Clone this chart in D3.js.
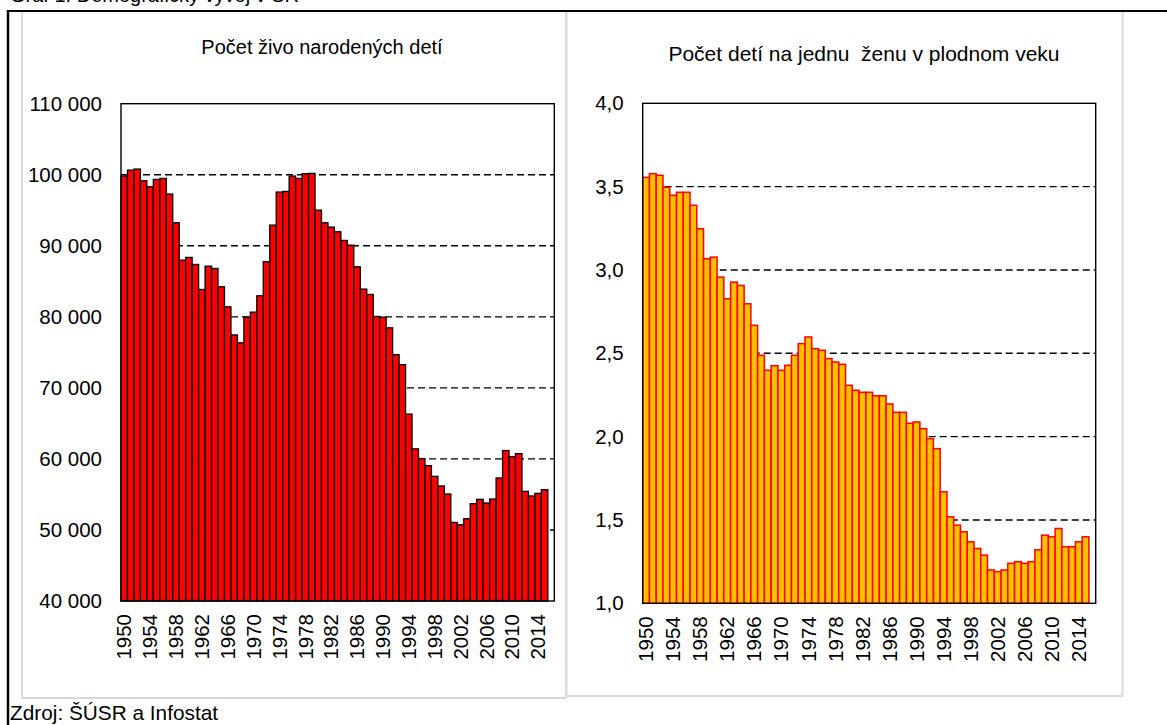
<!DOCTYPE html>
<html>
<head>
<meta charset="utf-8">
<script src="https://cdn.jsdelivr.net/npm/d3@7"></script>
<style>
  html, body { margin: 0; padding: 0; background: #fff; }
  svg { display: block; font-family: "Liberation Sans", Arial, sans-serif; }
  .title { white-space: pre; }
</style>
</head>
<body>
<svg id="chart" width="1167" height="725"></svg>
<script>
// Years 1950–2015
const years = d3.range(1950, 2016);

// Live births in Slovakia
const births = [
  99800, 100650, 100800, 99150, 98300, 99340, 99480, 97280, 93240, 87980,
  88360, 87370, 83850, 87130, 86810, 84230, 81410, 77450, 76350, 79950,
  80660, 82960, 87750, 92910, 97560, 97650, 99810, 99480, 100140, 100190,
  95020, 93240, 92630, 91970, 90750, 90090, 87040, 83900, 83150, 80050,
  79950, 78450, 74680, 73270, 66310, 61410, 60050, 59060, 57550, 56190,
  55060, 51060, 50730, 51580, 53690, 54310, 53790, 54350, 57320, 61180,
  60330, 60750, 55430, 54780, 55150, 55670
];

// Total fertility rate (children per woman)
const fertility = [
  3.556, 3.578, 3.568, 3.496, 3.448, 3.466, 3.466, 3.388, 3.247, 3.067,
  3.077, 2.957, 2.827, 2.927, 2.907, 2.797, 2.668, 2.488, 2.398, 2.426,
  2.398, 2.428, 2.488, 2.558, 2.598, 2.528, 2.518, 2.468, 2.448, 2.434,
  2.308, 2.278, 2.266, 2.266, 2.245, 2.245, 2.196, 2.146, 2.146, 2.080,
  2.088, 2.048, 1.988, 1.928, 1.669, 1.519, 1.469, 1.429, 1.369, 1.329,
  1.289, 1.200, 1.190, 1.200, 1.240, 1.250, 1.240, 1.250, 1.321, 1.409,
  1.399, 1.449, 1.339, 1.339, 1.369, 1.399
];

// Axis tick values
const birthTicks = [40000, 50000, 60000, 70000, 80000, 90000, 100000, 110000];
const fertilityTicks = [1.0, 1.5, 2.0, 2.5, 3.0, 3.5, 4.0];
const yearTicks = years.filter(y => (y - 1950) % 4 === 0);

const titles = ["Počet živo narodených detí", "Počet detí na jednu  ženu v plodnom veku"];
const heading = "Graf 1: Demografický vývoj v SR";
const source = "Zdroj: ŠÚSR a Infostat";

const sk = d3.formatLocale({ decimal: ",", thousands: " ", grouping: [3], currency: ["", ""] });
const fmtBirths = sk.format(",.0f");
const fmtRate = sk.format(".1f");

const svg = d3.select("#chart");
const FONT = 20.5;
const FAMILY = "Liberation Sans, Arial, sans-serif";

// Heading (its top runs off the page) and outer frame
svg.append("text").attr("x", 10).attr("y", 2)
  .attr("font-size", 20).attr("fill", "#000").text(heading);

// Panels
svg.append("rect").attr("x", 22).attr("y", 11).attr("width", 544).attr("height", 687)
  .attr("fill", "#fff").attr("stroke", "#d9d9d9").attr("stroke-width", 2);
svg.append("rect").attr("x", 566.5).attr("y", 11).attr("width", 556).attr("height", 685)
  .attr("fill", "#fff").attr("stroke", "#d9d9d9").attr("stroke-width", 2);

svg.append("line").attr("x1", 8).attr("x2", 1167).attr("y1", 11).attr("y2", 11)
  .attr("stroke", "#000").attr("stroke-width", 2);
svg.append("line").attr("x1", 8).attr("x2", 8).attr("y1", 10).attr("y2", 725)
  .attr("stroke", "#000").attr("stroke-width", 2.5);

svg.append("text").attr("x", 10).attr("y", 720)
  .attr("font-size", 20.8).attr("fill", "#000").text(source);

function drawPanel(cfg) {
  const { left, right, top, bottom, values, domain, ticks, grid, fmt, fill, stroke, strokeW,
          title, titleX, titleY, titleSize, labelGap } = cfg;
  const step = (right - left) / (years.length + 1);
  const x = d3.scaleBand().domain(years).range([left, left + step * years.length]).padding(0);
  const y = d3.scaleLinear().domain(domain).range([bottom, top]);
  const g = svg.append("g");

  g.append("text").attr("class", "title")
    .attr("x", titleX).attr("y", titleY).attr("text-anchor", "middle")
    .attr("font-size", titleSize).attr("fill", "#000").text(title);

  // dashed gridlines
  g.append("g").selectAll("line").data(grid).join("line")
    .attr("x1", left).attr("x2", right)
    .attr("y1", d => y(d)).attr("y2", d => y(d))
    .attr("stroke", "#000").attr("stroke-width", 1.4).attr("stroke-dasharray", "7,4");

  // bars
  g.append("g").selectAll("rect").data(years).join("rect")
    .attr("x", d => x(d))
    .attr("width", x.bandwidth())
    .attr("y", (d, i) => y(values[i]))
    .attr("height", (d, i) => y(domain[0]) - y(values[i]))
    .attr("fill", fill).attr("stroke", stroke).attr("stroke-width", strokeW);

  // plot frame
  g.append("rect").attr("x", left).attr("y", top)
    .attr("width", right - left).attr("height", bottom - top)
    .attr("fill", "none").attr("stroke", "#000").attr("stroke-width", 1.4);

  // y axis
  const ya = g.append("g").attr("transform", `translate(${left},0)`)
    .call(d3.axisLeft(y).tickValues(ticks).tickFormat(fmt).tickSize(0).tickPadding(labelGap));
  ya.select(".domain").remove();
  ya.selectAll("text").attr("font-size", FONT).attr("font-family", FAMILY).attr("fill", "#000");

  // x axis with rotated year labels
  const xa = g.append("g").attr("transform", `translate(0,${bottom})`)
    .call(d3.axisBottom(x).tickValues(yearTicks).tickSize(0));
  xa.select(".domain").remove();
  xa.selectAll("text")
    .attr("font-size", FONT).attr("font-family", FAMILY).attr("fill", "#000")
    .attr("transform", "rotate(-90)")
    .attr("text-anchor", "end")
    .attr("x", -13).attr("y", 0).attr("dy", "0.35em");
}

drawPanel({
  left: 121, right: 554.3, top: 103.7, bottom: 601,
  values: births, domain: [40000, 110000], ticks: birthTicks,
  grid: [50000, 60000, 70000, 80000, 90000, 100000], fmt: fmtBirths,
  fill: "#ff0000", stroke: "#000", strokeW: 1.3,
  title: titles[0], titleX: 322, titleY: 54, titleSize: 20, labelGap: 19
});

drawPanel({
  left: 642.7, right: 1095.7, top: 103.3, bottom: 603.3,
  values: fertility, domain: [1.0, 4.0], ticks: fertilityTicks,
  grid: [1.5, 2.0, 2.5, 3.0, 3.5], fmt: fmtRate,
  fill: "#ffc000", stroke: "#ff0000", strokeW: 1.5,
  title: titles[1], titleX: 864, titleY: 61, titleSize: 21, labelGap: 19
});
</script>
</body>
</html>
